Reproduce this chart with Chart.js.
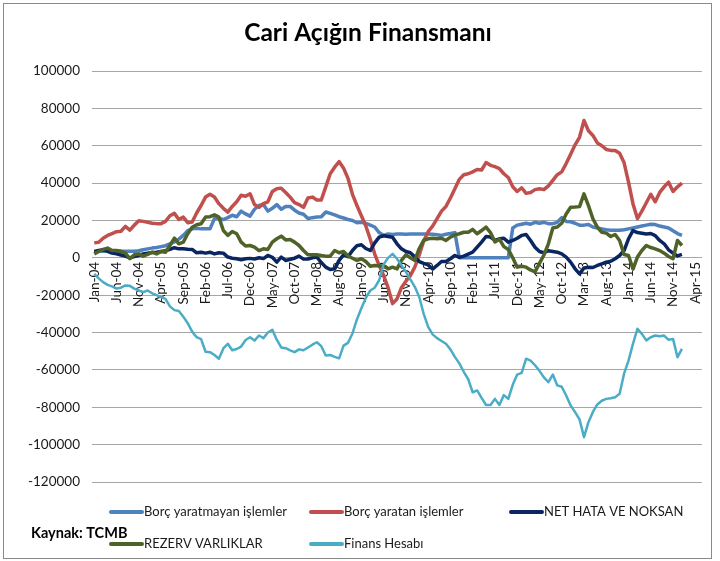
<!DOCTYPE html>
<html>
<head>
<meta charset="utf-8">
<title>Cari Açığın Finansmanı</title>
<script src="https://cdn.jsdelivr.net/npm/chart.js@4.4.1/dist/chart.umd.min.js"></script>
<style>
  html, body { margin: 0; padding: 0; background: #fff; }
  #kutu { width: 720px; height: 561px; position: relative; }
</style>
</head>
<body>
<div id="kutu"><canvas id="grafik"></canvas></div>
<script>
const baslik = 'Cari Açığın Finansmanı';
const kaynak = 'Kaynak: TCMB';

const aylar = ['Jan', 'Feb', 'Mar', 'Apr', 'May', 'Jun', 'Jul', 'Aug', 'Sep', 'Oct', 'Nov', 'Dec'];
const yillar = ['04', '05', '06', '07', '08', '09', '10', '11', '12', '13', '14', '15'];
const sonAy = 'May-15';

const seriAdlari = ['Borç yaratmayan işlemler', 'Borç yaratan işlemler', 'NET HATA VE NOKSAN', 'REZERV VARLIKLAR', 'Finans Hesabı'];
const seriRenkleri = ['#4f81bd', '#c0504d', '#0a2660', '#4f6228', '#4bacc6'];

const yTikler = [-120000, 100000, 20000]; // min, max, adim

// aylik degerler, Jan-04 ... Jan-15
const borcYaratmayan = [
  3000, 3500, 3500, 4000, 3800, 3500, 3500, 3500, 3500, 3500,
  3800, 4300, 4800, 5200, 5500, 6000, 6500, 7500, 8500, 10000,
  12000, 14500, 15500, 15800, 15500, 15500, 15500, 21000, 21000, 20500,
  21500, 22800, 22000, 25000, 23500, 22300, 26000, 28000, 28500, 25000,
  26500, 28500, 26000, 27500, 27500, 25500, 24000, 23300, 21000, 21500,
  21800, 22000, 24500, 23800, 23000, 22000, 21300, 20500, 20000, 18800,
  19000, 18500, 17500, 16500, 13500, 12000, 12800, 12500, 12800, 12800,
  12600, 12800, 12800, 12700, 12800, 12800, 12600, 12400, 12000, 12600,
  13000, 13500, 0, 0, 0, 0, 0, 0, 0, 0,
  0, 0, 0, 0, 16000, 17500, 18000, 18500, 18000, 19000,
  18500, 19000, 18300, 18300, 19000, 21500, 19500, 19300, 18500, 17500,
  17500, 17800, 16500, 16000, 15500, 15000, 14800, 14800, 14800, 15000,
  15500, 16000, 16500, 17000, 17500, 18000, 17800, 17000, 16500, 16000,
  14500, 13000, 12000
];
const borcYaratan = [
  8000, 8300, 10500, 12000, 13000, 14000, 14200, 16800, 14800, 17500,
  19800, 19500, 19000, 18500, 18300, 18300, 19500, 22500, 23800, 20500,
  21800, 18800, 19200, 24000, 28000, 32500, 34000, 32500, 29000, 26500,
  24500, 27500, 30000, 33500, 33000, 34300, 28500, 27000, 29000, 30000,
  35500, 37000, 37300, 35000, 32500, 29500, 28500, 27000, 32000, 32500,
  31000, 31000, 38000, 45000, 48500, 51500, 48000, 42500, 34000, 28000,
  22500, 17000, 10000, 2000, -4000, -9500, -16000, -24500, -22000, -16000,
  -12500, -9500, -5000, 1500, 9000, 14000, 17000, 21000, 25000, 27500,
  32000, 37000, 42000, 44500, 45000, 46000, 47300, 47000, 51000, 49500,
  48800, 47800, 45000, 43000, 38000, 35500, 37500, 34500, 35000, 36500,
  37000, 36500, 38500, 41500, 44500, 46000, 50500, 55500, 60500, 64500,
  73500, 68000, 65500, 61500, 60000, 58000, 57500, 57500, 56000, 51000,
  40500, 29000, 21000, 25000, 29500, 34000, 30000, 35000, 38000, 40500,
  35500, 38000, 40000
];
const netHata = [
  3400, 3900, 4300, 3400, 2500, 2100, 1500, 900, 0, 700,
  1250, 2100, 2500, 2800, 3000, 3400, 3800, 4500, 5400, 4800,
  4800, 4600, 4500, 2700, 3000, 2500, 3000, 2100, 2700, 2500,
  400, -200, -500, -1000, -500, -300, -600, 0, -400, 1250,
  300, -2300, 400, -1400, -800, -200, 900, -700, -600, 0,
  400, -2500, -5000, -6300, -5900, -1400, 1600, 600, 3900, 6500,
  7000, 5000, 3900, 8000, 11100, 11800, 11400, 11000, 7500, 4800,
  3400, 2700, 500, -2000, -3000, -3800, -6000, -4100, -2000, -2000,
  -500, 1250, 200, 900, 2000, 3000, 5700, 8400, 11400, 11100,
  9300, 10200, 10500, 8400, 9300, 10500, 12000, 12500, 9300, 5700,
  3400, 2700, 3800, 3400, 3000, 2100, 400, -2300, -5900, -8600,
  -5400, -5000, -5200, -4100, -3200, -2300, -1800, -500, 1250, 3900,
  10200, 14600, 13500, 13200, 12800, 13000, 11900, 9300, 7500, 4300,
  2500, 1000, 1800
];
const rezerv = [
  2100, 3400, 4500, 5200, 3900, 3900, 3500, 2500, -500, 1600,
  2100, 900, 1800, 3000, 2100, 3400, 3000, 6600, 10500, 7500,
  8400, 12900, 16400, 17700, 18200, 21800, 22000, 23000, 21800, 14600,
  12000, 14100, 12900, 8400, 6300, 6600, 5700, 3900, 4800, 4500,
  8400, 10200, 11600, 9600, 9800, 8400, 6600, 3900, 1600, 1600,
  1600, 1200, 900, 900, 3900, 2700, 3400, 1000, -200, -1400,
  -500, -2000, -4500, -4100, -4200, -4500, -5900, -5000, -5900, -1400,
  1600, 0, -1400, 5000, 9300, 10200, 10500, 10200, 10500, 9300,
  11100, 12300, 12900, 13700, 13700, 15200, 12900, 14600, 16400, 13500,
  8500, 10000, 6000, 4500, 0, -5000, -4500, -5000, -6500, -7500,
  -3000, 1500, 7500, 16000, 16500, 18500, 23500, 27100, 27200, 27400,
  34200, 28000, 20900, 16400, 13700, 13200, 11400, 12500, 9300, 1800,
  1250, -6000, 400, 3900, 6600, 5500, 4800, 3900, 2500, 700,
  -500, 9300, 6600
];
const finansHesabi = [
  -8600, -11000, -13000, -14500, -15300, -16500, -16000, -14800, -15000, -16500,
  -17500, -18400, -17500, -19000, -20000, -21000, -22000, -26000, -28000, -28500,
  -31500, -35000, -39500, -42500, -43500, -50300, -50500, -52000, -54000, -48500,
  -46000, -49500, -48800, -47500, -44000, -42500, -44300, -41600, -43000, -40000,
  -38500, -43800, -48000, -48400, -49500, -50500, -49000, -49500, -48000, -46500,
  -45200, -47300, -52300, -52000, -53000, -53800, -47000, -45500, -40500, -33000,
  -27000, -21500, -17500, -16000, -12000, -3500, 0, 2100, -500, -4000,
  -7500, -11500, -15500, -21000, -30000, -37000, -41000, -43000, -44500, -46000,
  -49000, -53000, -56500, -61000, -65000, -72000, -71000, -75000, -78800, -78800,
  -75500, -78800, -73500, -75500, -68000, -62500, -61600, -54000, -55000, -57500,
  -60500, -64000, -66600, -62500, -68300, -69000, -73700, -79000, -82600, -86500,
  -96000, -88000, -82500, -78500, -76500, -75500, -75200, -74600, -72800, -62000,
  -55000, -46100, -38000, -40700, -44200, -42500, -41600, -42000, -41600, -43900,
  -43400, -53200, -48700
];

// kategori etiketleri Jan-04 ... May-15
const kategoriler = [];
for (const y of yillar) {
  for (const a of aylar) {
    kategoriler.push(a + '-' + y);
    if (a + '-' + y === sonAy) break;
  }
}

const seriler = [borcYaratmayan, borcYaratan, netHata, rezerv, finansHesabi];

const yazi = 'Lato, "Open Sans", sans-serif';

const cizimler = {
  id: 'cizimler',
  beforeDraw(chart) {
    const ctx = chart.ctx;
    ctx.save();
    ctx.fillStyle = '#fff';
    ctx.fillRect(0, 0, chart.width, chart.height);
    ctx.strokeStyle = '#8a8a8a';
    ctx.lineWidth = 1;
    ctx.strokeRect(3.5, 3.5, 708, 555);
    ctx.restore();
  },
  afterDraw(chart) {
    const ctx = chart.ctx;
    ctx.save();
    ctx.fillStyle = '#000';
    ctx.textBaseline = 'middle';
    ctx.textAlign = 'center';
    ctx.font = 'bold 24.5px ' + yazi;
    ctx.fillText(baslik, 368, 33);

    // lejant
    const yerler = [[111, 512], [311, 512], [511, 512], [111, 544], [311, 544]];
    ctx.textAlign = 'left';
    ctx.font = '13px ' + yazi;
    chart.data.datasets.forEach((ds, i) => {
      const [x, y] = yerler[i];
      ctx.strokeStyle = ds.borderColor;
      ctx.lineWidth = 4;
      ctx.lineCap = 'round';
      ctx.beginPath();
      ctx.moveTo(x, y);
      ctx.lineTo(x + 31, y);
      ctx.stroke();
      ctx.fillStyle = '#1a1a1a';
      ctx.fillText(ds.label, x + 33, y);
    });

    ctx.font = 'bold 14.5px ' + yazi;
    ctx.fillStyle = '#000';
    ctx.fillText(kaynak, 31, 533);
    ctx.restore();
  }
};

const ctx = document.getElementById('grafik').getContext('2d');
new Chart(ctx, {
  type: 'line',
  data: {
    labels: kategoriler,
    datasets: seriler.map((veri, i) => ({
      label: seriAdlari[i],
      data: veri,
      borderColor: seriRenkleri[i],
      backgroundColor: seriRenkleri[i],
      borderWidth: i === 4 ? 2.5 : 3.5,
      pointRadius: 0,
      tension: 0,
      borderJoinStyle: 'round',
      order: 5 - i
    }))
  },
  options: {
    responsive: true,
    maintainAspectRatio: false,
    animation: false,
    layout: {
      padding: { left: 0, right: 14, top: 71, bottom: 79 }
    },
    scales: {
      x: {
        type: 'category',
        offset: true,
        position: { y: 0 },
        grid: { display: false, drawTicks: false },
        border: { display: true, color: '#a6a6a6', width: 1 },
        ticks: {
          autoSkip: false,
          maxRotation: 90,
          minRotation: 90,
          padding: 4,
          color: '#1a1a1a',
          font: { family: yazi, size: 13.5 },
          callback: (v, i) => (i % 5 === 0 ? kategoriler[i] : '')
        }
      },
      y: {
        min: yTikler[0],
        max: yTikler[1],
        afterFit: (s) => { s.width = 92; },
        grid: { color: '#a6a6a6', drawTicks: false },
        border: { display: false },
        ticks: {
          stepSize: yTikler[2],
          padding: 12,
          color: '#1a1a1a',
          font: { family: yazi, size: 13.5 },
          callback: (v) => String(v)
        }
      }
    },
    plugins: {
      legend: { display: false },
      title: { display: false },
      tooltip: { enabled: false }
    }
  },
  plugins: [cizimler]
});
</script>
</body>
</html>
